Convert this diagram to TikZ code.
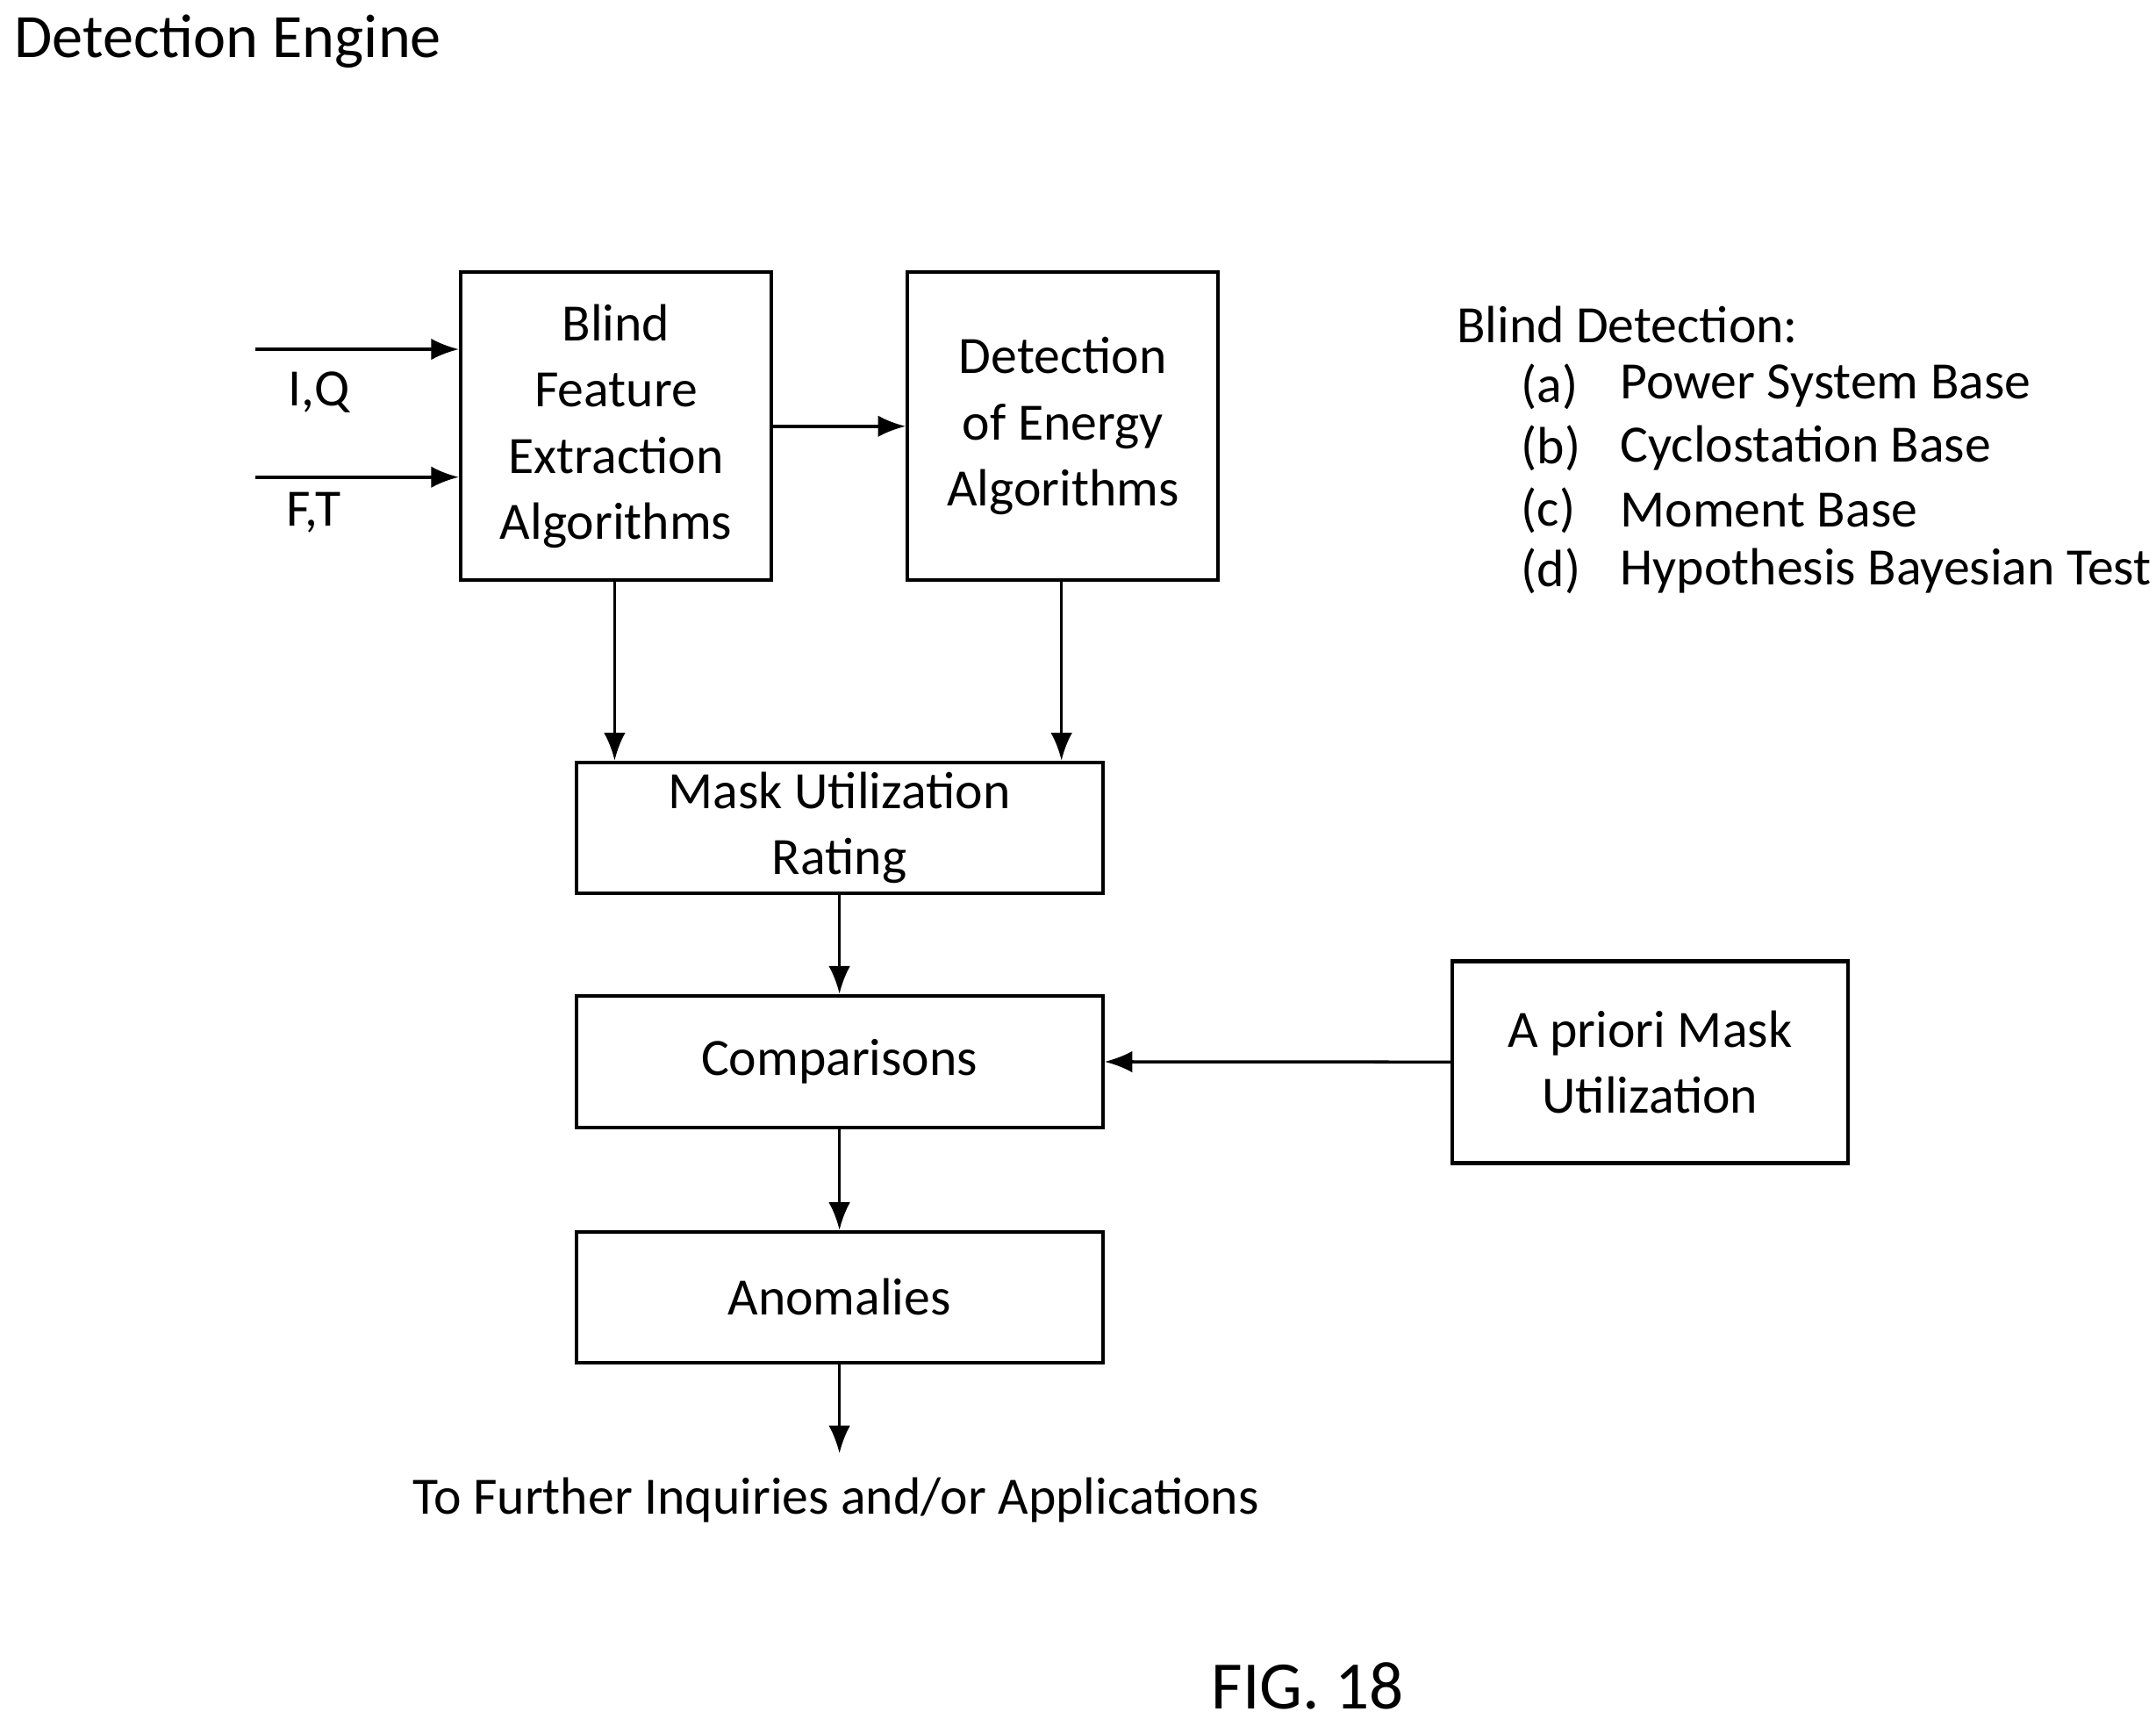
\documentclass[tikz,border=0pt]{standalone}
\usepackage{fontspec}
\setmainfont{Carlito}
\usetikzlibrary{arrows.meta}
\begin{document}
\begin{tikzpicture}[x=0.01567cm,y=-0.01567cm,
  box/.style={draw,line width=1.2pt,align=center,inner sep=0pt,font=\fontsize{17}{21.5}\selectfont},
  arr/.style={-{Latex[length=9pt,width=7pt]},line width=1pt},
  txt/.style={font=\fontsize{17}{21.5}\selectfont,inner sep=0pt}]
\useasboundingbox (0,0) rectangle (1568,1255);
\node[txt,anchor=west,font=\fontsize{20}{24}\selectfont] (title) at (10,30) {Detection Engine};
\node[box,minimum width=226\pgflinewidth/1pt*0+3.54cm,minimum height=3.51cm] (bf) at (448,310) {Blind\\Feature\\Extraction\\Algorithms};
\node[box,minimum width=3.54cm,minimum height=3.51cm] (de) at (773,310) {Detection\\of Energy\\Algorithms};
\node[box,minimum width=6.0cm,minimum height=1.49cm] (mu) at (610.5,602) {Mask Utilization\\Rating};
\node[box,minimum width=6.0cm,minimum height=1.5cm] (cp) at (610.5,772) {Comparisons};
\node[box,minimum width=6.0cm,minimum height=1.49cm] (an) at (610.5,943.5) {Anomalies};
\node[box,minimum width=4.51cm,minimum height=2.3cm] (ap) at (1200,772.5) {A priori Mask\\Utilization};
\coordinate (i1) at (186,254); \coordinate (i2) at (186,347);
\draw[arr] (i1) -- (i1 -| bf.west);
\draw[arr] (i2) -- (i2 -| bf.west);
\node[txt] (iq) at (232,285) {I,Q};
\node[txt] (ft) at (228,373) {F,T};
\draw[arr] (bf.east |- 0,310) -- (de.west |- 0,310);
\draw[arr] (bf.south -| 447,0) -- (mu.north -| 447,0);
\draw[arr] (de.south -| 772,0) -- (mu.north -| 772,0);
\draw[arr] (mu) -- (cp);
\draw[arr] (cp) -- (an);
\draw[arr] (ap) -- (cp);
\coordinate (out) at (610.5,1057);
\draw[arr] (an) -- (out);
\node[txt] (fu) at (608,1091) {To Further Inquiries and/or Applications};
\node[txt,font=\fontsize{22}{26}\selectfont] (fig) at (951,1226) {FIG. 18};
\node[txt,anchor=west] (bd) at (1059,236) {Blind Detection:};
\node[txt,anchor=west] (la) at (1106,281) {(a)};
\node[txt,anchor=west] (lb) at (1106,326) {(b)};
\node[txt,anchor=west] (lc) at (1106,371) {(c)};
\node[txt,anchor=west] (ld) at (1106,415) {(d)};
\node[txt,anchor=west] (ta) at (1178,281) {Power System Base};
\node[txt,anchor=west] (tb) at (1178,326) {Cyclostation Base};
\node[txt,anchor=west] (tc) at (1178,371) {Moment Base};
\node[txt,anchor=west] (td) at (1178,415) {Hypothesis Bayesian Test};
\end{tikzpicture}
\end{document}
